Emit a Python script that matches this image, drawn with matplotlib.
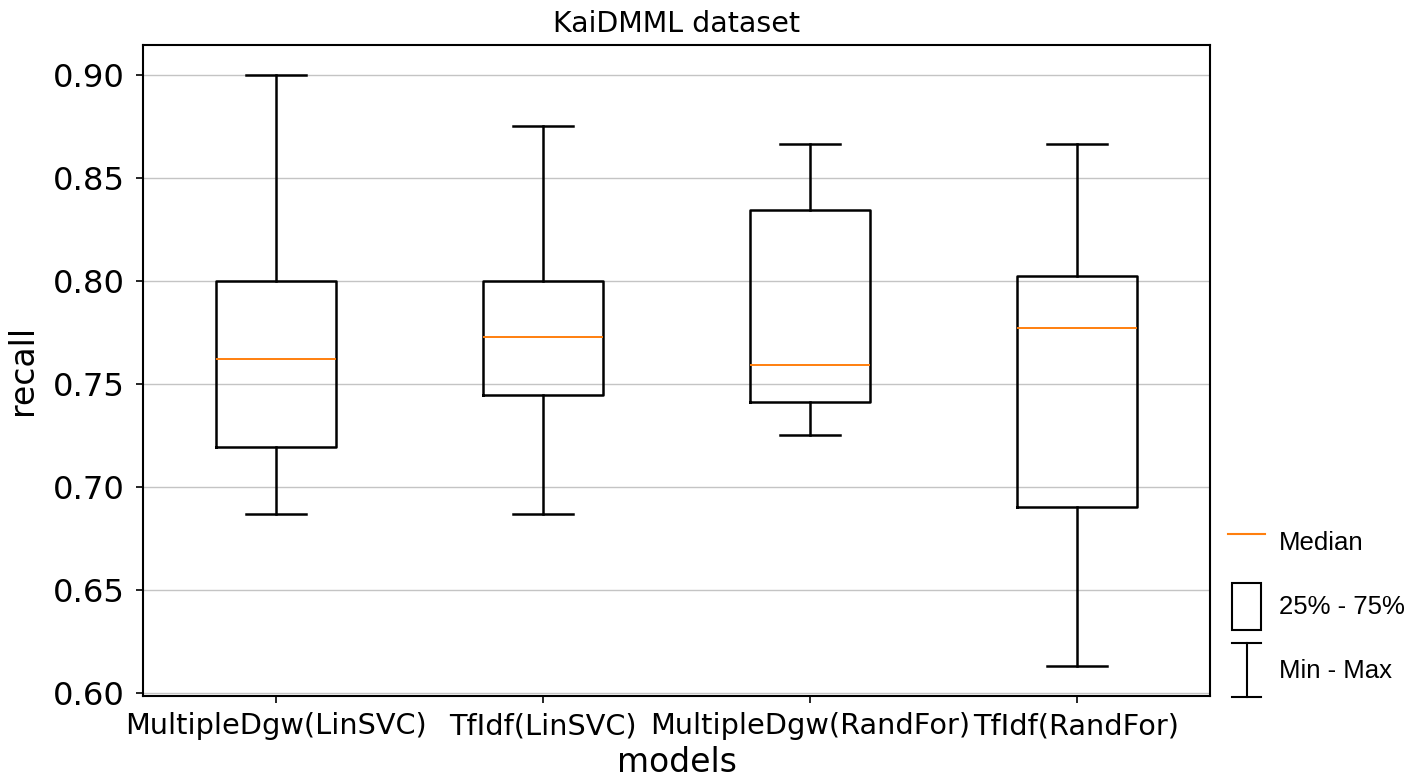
import matplotlib
matplotlib.use("Agg")
import matplotlib.pyplot as plt
from matplotlib.lines import Line2D
from matplotlib.patches import Rectangle
from matplotlib.legend_handler import HandlerBase

plt.rcParams["font.family"] = ["DejaVu Sans"]

# data (recall per model)
models = ["MultipleDgw(LinSVC)", "TfIdf(LinSVC)", "MultipleDgw(RandFor)", "TfIdf(RandFor)"]
rec_min = [0.687, 0.687, 0.725, 0.613]
rec_q1 = [0.7195, 0.7445, 0.741, 0.690]
rec_med = [0.762, 0.7725, 0.7593, 0.7768]
rec_q3 = [0.800, 0.800, 0.8342, 0.8025]
rec_max = [0.900, 0.875, 0.8665, 0.8665]

stats = []
for i in range(len(models)):
    stats.append({"label": models[i], "whislo": rec_min[i], "q1": rec_q1[i],
                  "med": rec_med[i], "q3": rec_q3[i], "whishi": rec_max[i],
                  "fliers": []})

fig = plt.figure(figsize=(14.28, 7.78), dpi=100)
ax = fig.add_axes([0.1001, 0.1058, 0.7472, 0.8364])

lw = 1.8
ax.bxp(stats, showfliers=False,
       boxprops=dict(linewidth=lw, color="black"),
       whiskerprops=dict(linewidth=lw, color="black"),
       capprops=dict(linewidth=lw, color="black"),
       medianprops=dict(linewidth=1.4, color="#ff7f0e"))

ax.yaxis.grid(True, color="#c4c4c4", linewidth=1.0)
ax.set_axisbelow(True)
for s in ax.spines.values():
    s.set_linewidth(1.5)

ax.tick_params(axis="y", labelsize=23.2, width=1.2, length=5, pad=8)
ax.tick_params(axis="x", labelsize=20.7, width=1.2, length=5, pad=7)
ax.set_yticks([0.60, 0.65, 0.70, 0.75, 0.80, 0.85, 0.90])
ax.set_yticklabels(["0.60", "0.65", "0.70", "0.75", "0.80", "0.85", "0.90"])
ax.set_xlabel("models", fontsize=23.8, labelpad=4)
ax.set_ylabel("recall", fontsize=23.8, labelpad=10)
ax.set_title("KaiDMML dataset", fontsize=20.5, pad=9)


# legend symbols
class BoxHandler(HandlerBase):
    def create_artists(self, legend, orig_handle, xdescent, ydescent,
                       width, height, fontsize, trans):
        w = width * 0.78
        x0 = -xdescent + (width - w) / 2
        r = Rectangle((x0, -ydescent), w, height, facecolor="white",
                      edgecolor="black", linewidth=1.5, transform=trans)
        return [r]


class MinMaxHandler(HandlerBase):
    def create_artists(self, legend, orig_handle, xdescent, ydescent,
                       width, height, fontsize, trans):
        cx = -xdescent + width / 2
        cw = width * 0.4
        y0 = -ydescent - height * 0.08
        y1 = -ydescent + height * 1.08
        arts = [Line2D([cx, cx], [y0, y1], color="black", lw=1.5, transform=trans),
                Line2D([cx - cw, cx + cw], [y0, y0], color="black", lw=1.5, transform=trans),
                Line2D([cx - cw, cx + cw], [y1, y1], color="black", lw=1.5, transform=trans)]
        return arts


med_h = Line2D([], [], color="#ff7f0e", lw=1.5)
box_h = Rectangle((0, 0), 1, 1)
mm_h = Line2D([], [])

leg = fig.legend([med_h, box_h, mm_h], ["Median", "25% - 75%", "Min - Max"],
                 handler_map={box_h: BoxHandler(), mm_h: MinMaxHandler()},
                 loc="center left", bbox_to_anchor=(1228 / 1428, 0.221),
                 frameon=False, borderpad=0, borderaxespad=0,
                 handlelength=1.44, handleheight=2.43, handletextpad=0.55,
                 labelspacing=0.66, prop={"family": "Liberation Sans", "size": 18.5})

fig.savefig("out.png", dpi=100)
